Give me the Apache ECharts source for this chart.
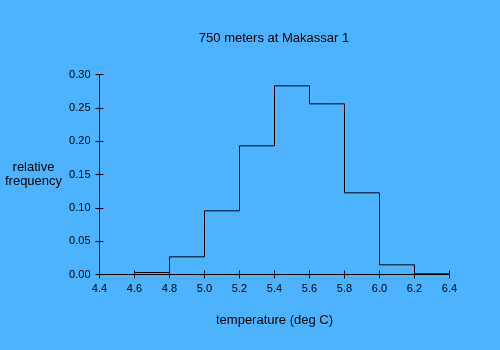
<!DOCTYPE html>
<html><head><meta charset="utf-8">
<script src="https://cdn.jsdelivr.net/npm/echarts@6/dist/echarts.min.js"></script>
<style>html,body{margin:0;padding:0;background:#4db2ff}#c{width:500px;height:350px}</style>
</head><body><div id="c"></div>
<script>
const title = "750 meters at Makassar 1";
const xName = "temperature (deg C)";
const yName = "relative\nfrequency";
const binEdges = [4.6, 4.8, 5.0, 5.2, 5.4, 5.6, 5.8, 6.0, 6.2, 6.4];
const freq = [0.003, 0.0265, 0.0955, 0.193, 0.283, 0.256, 0.1225, 0.0145, 0.001];
const xTicks = [4.4, 4.6, 4.8, 5.0, 5.2, 5.4, 5.6, 5.8, 6.0, 6.2, 6.4];
const yTicks = [0.00, 0.05, 0.10, 0.15, 0.20, 0.25, 0.30];

// each item: [left edge, right edge, value, previous value]
const bins = freq.map((v, i) => [binEdges[i], binEdges[i + 1], v, i === 0 ? 0 : freq[i - 1]]);

const font = 'Liberation Sans, Arial, sans-serif';
const lab = {color: '#000', fontFamily: font, fontSize: 11};
function xa(inside, show) {
  return {type: 'value', min: xTicks[0], max: xTicks[xTicks.length - 1], interval: 0.2, position: 'bottom',
    axisLine: {show: true, lineStyle: {color: '#000', width: 1}},
    axisTick: {show: true, inside: inside, length: 4, lineStyle: {color: '#000'}},
    axisLabel: show ? Object.assign({margin: 9, formatter: v => v.toFixed(1)}, lab) : {show: false},
    splitLine: {show: false},
    name: show ? xName : '', nameLocation: 'middle', nameGap: 39,
    nameTextStyle: {color: '#000', fontFamily: font, fontSize: 13}};
}
function ya(inside, show) {
  return {type: 'value', min: yTicks[0], max: yTicks[yTicks.length - 1], interval: 0.05, position: 'left',
    axisLine: {show: true, lineStyle: {color: '#000', width: 1}},
    axisTick: {show: true, inside: inside, length: 4, lineStyle: {color: '#000'}},
    axisLabel: show ? Object.assign({margin: 9, formatter: v => v.toFixed(2)}, lab) : {show: false},
    splitLine: {show: false},
    name: show ? yName : '', nameLocation: 'middle', nameGap: 66, nameRotate: 0,
    nameTextStyle: {color: '#000', fontFamily: font, fontSize: 13, align: 'center', lineHeight: 14}};
}
const chart = echarts.init(document.getElementById('c'));
chart.setOption({
  backgroundColor: '#4db2ff',
  animation: false,
  title: {text: title, left: 274, textAlign: 'center', top: 32, padding: 0,
    textStyle: {color: '#000', fontFamily: font, fontSize: 13, fontWeight: 'normal'}},
  grid: {left: 99.5, right: 50.5, top: 74.5, bottom: 75.5},
  xAxis: [xa(false, true), xa(true, false)],
  yAxis: [ya(false, true), ya(true, false)],
  series: [{
    type: 'custom', xAxisIndex: 0, yAxisIndex: 0, data: bins,
    renderItem: function (params, api) {
      const l = api.value(0), r = api.value(1), v = api.value(2), p = api.value(3);
      return {type: 'polyline', silent: true,
        shape: {points: [api.coord([l, p]), api.coord([l, v]), api.coord([r, v])]},
        style: {stroke: '#000', lineWidth: 1, fill: null}};
    }
  }]
});
</script></body></html>
